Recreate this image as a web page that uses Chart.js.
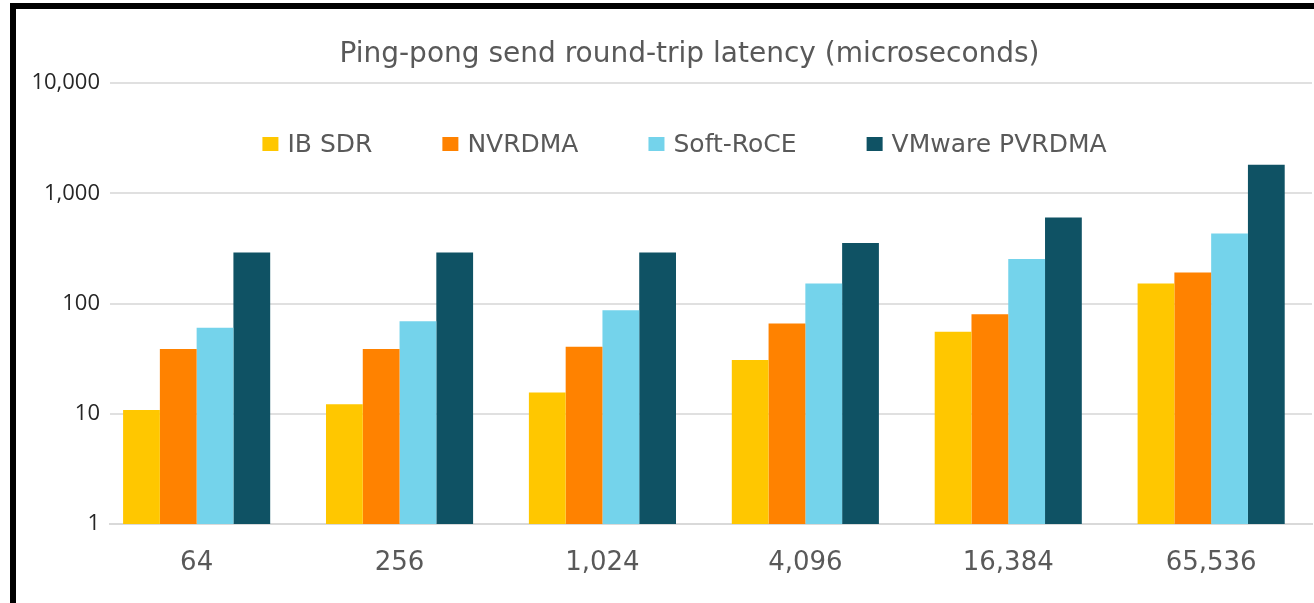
<!DOCTYPE html>
<html>
<head>
<meta charset="utf-8">
<script src="https://cdn.jsdelivr.net/npm/chart.js@4.4.1/dist/chart.umd.min.js"></script>
<style>
  html, body { margin: 0; padding: 0; background: #fff; overflow: hidden; }
  #wrap { position: relative; width: 1314px; height: 603px; }
  #frame {
    position: absolute; left: 10px; top: 3px; width: 1310px; height: 596px;
    border-left: 6px solid #000; border-top: 6px solid #000; border-bottom: 2px solid #777;
    pointer-events: none;
  }
</style>
</head>
<body>
<div id="wrap">
  <canvas id="latencyChart" width="1314" height="603"></canvas>
  <div id="frame"></div>
</div>
<script>
// message sizes (bytes)
var sizes = ["64", "256", "1,024", "4,096", "16,384", "65,536"];

// round-trip latency in microseconds
var ibSdr    = [10.8, 12.2, 15.6, 30.7, 55.4, 152];
var nvrdma   = [38.6, 38.6, 40.5, 66, 80, 191];
var softRoce = [60.2, 69, 87, 152, 253, 432];
var pvrdma   = [290, 290, 290, 353, 603, 1810];

var yTicks = [1, 10, 100, 1000, 10000];

var seriesNames = ["IB SDR", "NVRDMA", "Soft-RoCE", "VMware PVRDMA"];
var seriesColors = ["#FFC700", "#FF8200", "#74D3EB", "#0F5264"];

var titleText = "Ping-pong send round-trip latency (microseconds)";

var wideFont = "'DejaVu Sans', sans-serif";
var tickFont = "'Open Sans', sans-serif";
var gray = "#595959";

function points(values) {
    return values.map(function (v, i) { return { x: i, y: v }; });
}

// title and legend are drawn by hand: both are centred off the plot centre
// and the legend sits inside the plot
var titleAndLegend = {
    id: 'titleAndLegend',
    afterDraw: function (chart) {
        var ctx = chart.ctx;
        ctx.save();
        ctx.textBaseline = 'middle';

        ctx.font = "28px " + wideFont;
        ctx.fillStyle = gray;
        ctx.textAlign = 'center';
        ctx.fillText(titleText, 689.5, 55);

        var box = 16, boxGap = 9, itemGap = 70, centerX = 684.5, y = 144;
        ctx.font = "25px " + wideFont;
        ctx.textAlign = 'left';
        var widths = chart.data.datasets.map(function (ds) { return ctx.measureText(ds.label).width; });
        var total = 0;
        widths.forEach(function (w, i) { total += box + boxGap + w + (i > 0 ? itemGap : 0); });
        var x = centerX - total / 2;
        chart.data.datasets.forEach(function (ds, i) {
            ctx.fillStyle = ds.backgroundColor;
            ctx.fillRect(x, y - 7, box, 14);
            ctx.fillStyle = gray;
            ctx.fillText(ds.label, x + box + boxGap, y + 1);
            x += box + boxGap + widths[i] + itemGap;
        });
        ctx.restore();
    }
};

var ctx = document.getElementById("latencyChart").getContext("2d");

var latencyChart = new Chart(ctx, {
    type: 'bar',
    data: {
        datasets: [
            { label: seriesNames[0], data: points(ibSdr), backgroundColor: seriesColors[0] },
            { label: seriesNames[1], data: points(nvrdma), backgroundColor: seriesColors[1] },
            { label: seriesNames[2], data: points(softRoce), backgroundColor: seriesColors[2] },
            { label: seriesNames[3], data: points(pvrdma), backgroundColor: seriesColors[3] }
        ]
    },
    options: {
        responsive: false,
        animation: false,
        layout: { padding: { left: 0, right: 2, top: 83, bottom: 0 } },
        datasets: {
            bar: { categoryPercentage: 0.725, barPercentage: 1.0 }
        },
        plugins: {
            legend: { display: false },
            tooltip: { enabled: false },
            title: { display: false }
        },
        scales: {
            x: {
                type: 'linear',
                offset: false,
                min: -0.427,
                max: 5.497,
                grid: { display: false, offset: false },
                border: { display: true, color: '#d9d9d9', width: 2 },
                afterBuildTicks: function (axis) {
                    axis.ticks = sizes.map(function (s, i) { return { value: i }; });
                },
                ticks: {
                    color: gray,
                    padding: 16,
                    autoSkip: false,
                    maxRotation: 0,
                    font: { family: wideFont, size: 26 },
                    callback: function (v) { return sizes[v]; }
                },
                afterFit: function (axis) { axis.height = 79; }
            },
            y: {
                type: 'logarithmic',
                min: 1,
                max: 10000,
                grid: { color: '#e0e0e0', lineWidth: 2, drawTicks: false },
                border: { display: false },
                afterBuildTicks: function (axis) {
                    axis.ticks = yTicks.map(function (v) { return { value: v }; });
                },
                ticks: {
                    color: '#262626',
                    padding: 10,
                    font: { family: tickFont, size: 22 },
                    callback: function (v) { return Number(v).toLocaleString('en-US'); }
                },
                afterFit: function (axis) { axis.width = 110; }
            }
        }
    },
    plugins: [titleAndLegend]
});
</script>
</body>
</html>
